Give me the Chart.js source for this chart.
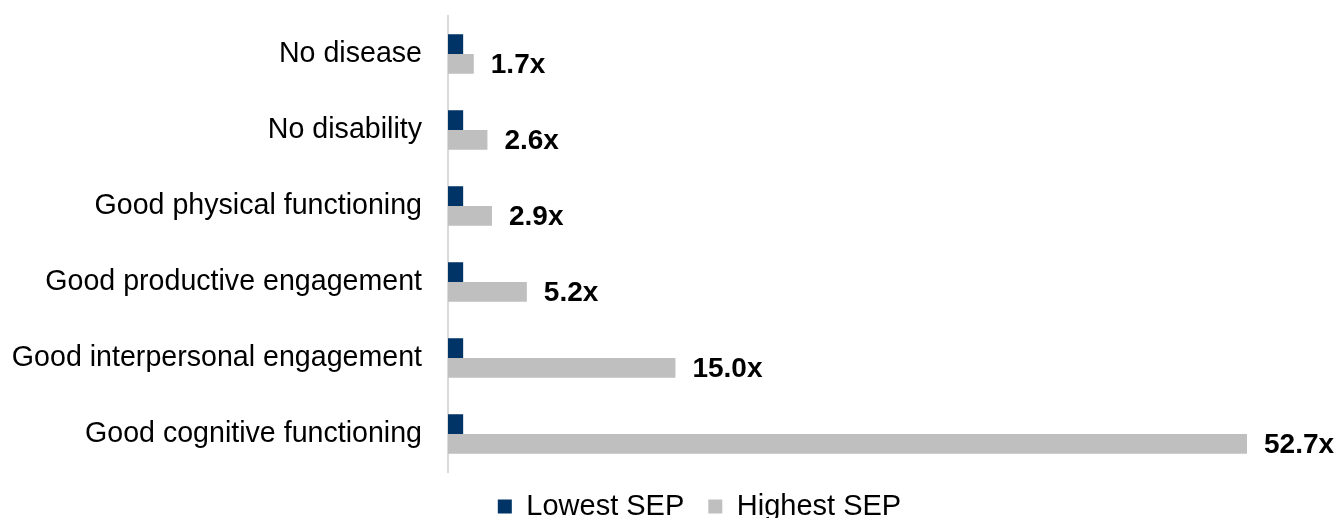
<!DOCTYPE html>
<html>
<head>
<meta charset="utf-8">
<script src="https://cdn.jsdelivr.net/npm/chart.js@4/dist/chart.umd.min.js"></script>
<style>
  html, body { margin: 0; padding: 0; background: #fff; overflow: hidden; }
  #wrap { width: 1338px; height: 535px; position: relative; }
</style>
</head>
<body>
<div id="wrap"><canvas id="chart"></canvas></div>
<script>
// Chart data
const categories = [
  'No disease',
  'No disability',
  'Good physical functioning',
  'Good productive engagement',
  'Good interpersonal engagement',
  'Good cognitive functioning'
];
const lowestSep  = [1, 1, 1, 1, 1, 1];
const highestSep = [1.7, 2.6, 2.9, 5.2, 15.0, 52.7];
const ratioLabels = ['1.7x', '2.6x', '2.9x', '5.2x', '15.0x', '52.7x'];

const FONT = '"Liberation Sans", Arial, sans-serif';

// Draw the "N.Nx" label at the end of each grey bar
const ratioLabelPlugin = {
  id: 'ratioLabels',
  afterDatasetsDraw(chart) {
    const ctx = chart.ctx;
    const meta = chart.getDatasetMeta(1);
    ctx.save();
    ctx.font = 'bold 28px ' + FONT;
    ctx.fillStyle = '#000';
    ctx.textAlign = 'left';
    ctx.textBaseline = 'middle';
    meta.data.forEach((bar, i) => {
      ctx.fillText(ratioLabels[i], bar.x + 17, bar.y + 1);
    });
    ctx.restore();
  }
};

// Legend sits right of the canvas centre in the original
const legendShift = {
  id: 'legendShift',
  afterLayout(chart) {
    const lg = chart.legend;
    lg.left += 70;
    lg.right += 70;
    lg.top -= 4;
    lg.bottom -= 4;
  }
};

new Chart(document.getElementById('chart').getContext('2d'), {
  type: 'bar',
  data: {
    labels: categories,
    datasets: [
      {
        label: 'Lowest SEP',
        data: lowestSep,
        backgroundColor: '#003366',
        categoryPercentage: 0.52,
        barPercentage: 1.0
      },
      {
        label: 'Highest SEP',
        data: highestSep,
        backgroundColor: '#bfbfbf',
        categoryPercentage: 0.52,
        barPercentage: 1.0
      }
    ]
  },
  options: {
    indexAxis: 'y',
    responsive: true,
    maintainAspectRatio: false,
    animation: false,
    layout: {
      padding: { top: 16, right: 91, left: 12, bottom: 0 }
    },
    scales: {
      x: {
        display: false,
        min: 0,
        max: 52.7
      },
      y: {
        grid: { display: false, drawTicks: false },
        border: { display: true, color: '#d9d9d9', width: 2 },
        ticks: {
          color: '#000',
          padding: 26,
          font: { family: FONT, size: 28.6 }
        },
        // fixed label column; tick padding should not push the plot down
        afterFit(scale) {
          scale.width = 436;
          scale.paddingTop = 0;
          scale.paddingBottom = 0;
        }
      }
    },
    plugins: {
      legend: {
        position: 'bottom',
        labels: {
          color: '#000',
          boxWidth: 14,
          boxHeight: 14,
          padding: 24,
          font: { family: FONT, size: 29 }
        }
      },
      tooltip: { enabled: false }
    }
  },
  plugins: [ratioLabelPlugin, legendShift]
});
</script>
</body>
</html>
